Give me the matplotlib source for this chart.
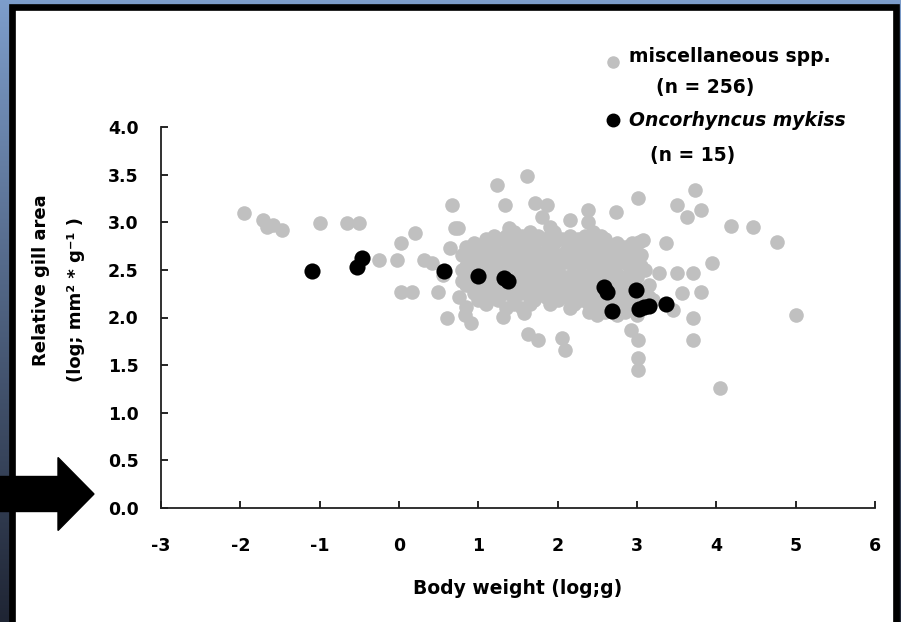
import numpy as np
import matplotlib
matplotlib.use('Agg')
import matplotlib.pyplot as plt
from matplotlib.patches import Rectangle, FancyArrow
from matplotlib.lines import Line2D
from matplotlib.colors import LinearSegmentedColormap

plt.rcParams['font.family'] = 'DejaVu Sans'
plt.rcParams['font.weight'] = 'bold'
plt.rcParams['axes.unicode_minus'] = False

# miscellaneous species (grey) - outliers first, then the dense central cloud
misc_x = [-1.95, -1.72, -1.66, -1.59, -1.48, -1.00, -0.65, -0.50, -0.25, -0.02,
          0.03, 0.20, 0.32, 0.03, 0.16, 0.49, 0.61, 0.67, 0.70, 0.64,
          0.42, 0.55, 0.76, 0.85, 0.83, 0.91, 1.31, 1.58, 1.62, 1.75,
          2.05, 2.09, 1.61, 1.24, 1.33, 1.71, 1.86, 1.80, 2.15, 2.38,
          2.38, 2.74, 3.01, 3.03, 3.73, 3.51, 3.81, 3.63, 4.19, 4.46,
          4.76, 3.37, 2.94, 3.94, 3.28, 3.51, 3.70, 3.57, 3.81, 3.70,
          3.70, 5.01, 4.04, 3.45, 3.01, 3.01, 3.01, 2.93, 0.74, 1.39,
          1.90, 3.07,
          # cloud
          1.45, 1.65, 1.95, 2.45,
          1.10, 1.30, 1.55, 1.80, 2.05, 2.25, 2.60,
          0.85, 1.00, 1.20, 1.45, 1.70, 1.90, 2.15, 2.40, 2.70, 2.85,
          0.80, 1.10, 1.30, 1.55, 1.75, 2.00, 2.25, 2.50, 2.65, 3.05,
          0.90, 1.05, 1.25, 1.45, 1.65, 1.85, 2.10, 2.35, 2.55, 2.80, 2.95,
          0.80, 1.15, 1.35, 1.60, 1.80, 2.00, 2.20, 2.45, 2.70, 3.10,
          0.90, 1.10, 1.50, 1.70, 1.95, 2.10, 2.45, 2.60, 2.85, 3.00,
          0.85, 1.05, 1.25, 1.45, 1.65, 1.85, 2.05, 2.35, 2.50, 2.75, 3.15,
          0.95, 1.15, 1.35, 1.55, 1.75, 1.95, 2.20, 2.40, 2.65, 2.85, 3.05,
          1.00, 1.25, 1.45, 1.70, 2.00, 2.30, 2.55, 2.80, 3.20,
          1.35, 1.55, 2.15, 2.45, 2.60, 2.90,
          2.50, 2.75, 3.00,
          1.20, 1.35, 1.55, 1.75, 1.90, 2.15, 2.35, 2.55,
          0.95, 1.15, 1.40, 1.60, 1.95, 2.20, 2.50, 2.75,
          0.90, 1.05, 1.35, 1.60, 1.85, 2.10, 2.35, 2.60, 2.80, 2.95,
          0.95, 1.20, 1.40, 1.65, 1.90, 2.15, 2.40, 2.75, 2.90,
          0.85, 1.00, 1.25, 1.50, 1.75, 1.95, 2.25, 2.50, 2.65, 2.90, 3.05,
          0.95, 1.25, 1.55, 1.75, 1.90, 2.30, 2.55, 2.75, 2.95,
          0.80, 1.00, 1.20, 1.60, 1.80, 2.00, 2.20, 2.55, 2.70, 2.95,
          0.95, 1.15, 1.35, 1.55, 1.75, 1.95, 2.15, 2.30, 2.45, 2.85, 3.10,
          1.05, 1.25, 1.45, 1.65, 1.85, 2.10, 2.35, 2.50, 2.75, 2.95, 3.15,
          1.10, 1.45, 1.65, 1.90, 2.20, 2.40, 2.70, 3.00,
          2.40, 2.60, 2.85]
misc_y = [3.10, 3.02, 2.95, 2.97, 2.92, 2.99, 2.99, 2.99, 2.60, 2.60,
          2.78, 2.89, 2.60, 2.27, 2.27, 2.27, 1.99, 3.18, 2.94, 2.73,
          2.57, 2.45, 2.21, 2.11, 2.03, 1.94, 2.01, 2.05, 1.83, 1.76,
          1.78, 1.66, 3.49, 3.39, 3.18, 3.20, 3.18, 3.05, 3.02, 3.13,
          3.00, 3.11, 3.25, 2.79, 3.34, 3.18, 3.13, 3.05, 2.96, 2.95,
          2.79, 2.78, 2.78, 2.57, 2.47, 2.47, 2.47, 2.26, 2.27, 1.99,
          1.76, 2.03, 1.26, 2.08, 1.58, 1.45, 1.76, 1.87, 2.94, 2.94,
          2.95, 2.81,
          # cloud
          2.90, 2.90, 2.90, 2.90,
          2.82, 2.82, 2.82, 2.82, 2.82, 2.82, 2.82,
          2.74, 2.74, 2.74, 2.74, 2.74, 2.74, 2.74, 2.74, 2.74, 2.74,
          2.66, 2.66, 2.66, 2.66, 2.66, 2.66, 2.66, 2.66, 2.66, 2.66,
          2.58, 2.58, 2.58, 2.58, 2.58, 2.58, 2.58, 2.58, 2.58, 2.58, 2.58,
          2.50, 2.50, 2.50, 2.50, 2.50, 2.50, 2.50, 2.50, 2.50, 2.50,
          2.42, 2.42, 2.42, 2.42, 2.42, 2.42, 2.42, 2.42, 2.42, 2.42,
          2.34, 2.34, 2.34, 2.34, 2.34, 2.34, 2.34, 2.34, 2.34, 2.34, 2.34,
          2.26, 2.26, 2.26, 2.26, 2.26, 2.26, 2.26, 2.26, 2.26, 2.26, 2.26,
          2.18, 2.18, 2.18, 2.18, 2.18, 2.18, 2.18, 2.18, 2.18,
          2.10, 2.10, 2.10, 2.10, 2.10, 2.10,
          2.03, 2.03, 2.03,
          2.86, 2.86, 2.86, 2.86, 2.86, 2.86, 2.86, 2.86,
          2.78, 2.78, 2.78, 2.78, 2.78, 2.78, 2.78, 2.78,
          2.70, 2.70, 2.70, 2.70, 2.70, 2.70, 2.70, 2.70, 2.70, 2.70,
          2.62, 2.62, 2.62, 2.62, 2.62, 2.62, 2.62, 2.62, 2.62,
          2.54, 2.54, 2.54, 2.54, 2.54, 2.54, 2.54, 2.54, 2.54, 2.54, 2.54,
          2.46, 2.46, 2.46, 2.46, 2.46, 2.46, 2.46, 2.46, 2.46,
          2.38, 2.38, 2.38, 2.38, 2.38, 2.38, 2.38, 2.38, 2.38, 2.38,
          2.30, 2.30, 2.30, 2.30, 2.30, 2.30, 2.30, 2.30, 2.30, 2.30, 2.30,
          2.22, 2.22, 2.22, 2.22, 2.22, 2.22, 2.22, 2.22, 2.22, 2.22, 2.22,
          2.14, 2.14, 2.14, 2.14, 2.14, 2.14, 2.14, 2.14,
          2.06, 2.06, 2.06]

# Oncorhynchus mykiss (black), n = 15
onc_x = [-1.10, -0.53, -0.47, 0.57, 0.99, 1.32, 1.37, 2.58, 2.62, 2.99,
         2.69, 3.03, 3.09, 3.15, 3.37]
onc_y = [2.49, 2.53, 2.62, 2.49, 2.44, 2.41, 2.38, 2.32, 2.27, 2.29,
         2.07, 2.09, 2.11, 2.12, 2.14]

x_ticks = [-3, -2, -1, 0, 1, 2, 3, 4, 5, 6]
y_ticks = [0.0, 0.5, 1.0, 1.5, 2.0, 2.5, 3.0, 3.5, 4.0]

W, H = 901, 622
fig = plt.figure(figsize=(W / 100, H / 100), dpi=100)

# blue gradient backdrop
bg = fig.add_axes([0, 0, 1, 1], zorder=-3)
grad = np.linspace(0, 1, 256).reshape(-1, 1)
cmap = LinearSegmentedColormap.from_list('bg', ['#7d9dcb', '#1f2534'])
bg.imshow(grad, aspect='auto', cmap=cmap, extent=[0, 1, 0, 1], origin='upper')
bg.axis('off')

# white panel with black frame
fig.add_artist(Rectangle((12 / W, -0.05), (896 - 12) / W, 1.05 - 6.5 / H,
                         transform=fig.transFigure, facecolor='white',
                         edgecolor='black', linewidth=4.8, zorder=-2))

ax = fig.add_axes([161 / W, 1 - 508 / H, (875 - 161) / W, (508 - 127) / H])
ax.patch.set_visible(False)

ax.scatter(misc_x, misc_y, s=110, color='#c0c0c0', linewidths=0, zorder=2)
ax.scatter(onc_x, onc_y, s=135, color='black', linewidths=0, zorder=3)

ax.set_xlim(-3, 6)
ax.set_ylim(0, 4)
ax.set_xticks(x_ticks)
ax.set_yticks(y_ticks)
ax.set_yticklabels(['%.1f' % v for v in y_ticks])
ax.spines['top'].set_visible(False)
ax.spines['right'].set_visible(False)
for side in ['left', 'bottom']:
    ax.spines[side].set_linewidth(1.3)
    ax.spines[side].set_color('#202020')
ax.tick_params(direction='in', length=5, width=1.2, labelsize=12.5)
ax.tick_params(axis='y', pad=16)
ax.tick_params(axis='x', pad=21)

# axis titles
fig.text(518 / W, 1 - 588 / H, 'Body weight (log;g)', ha='center', va='center',
         fontsize=13.5)
fig.text(41 / W, 1 - 280 / H, 'Relative gill area', rotation=90,
         ha='center', va='center', fontsize=13)
fig.text(76 / W, 1 - 300 / H, '(log; mm² * g⁻¹ )', rotation=90,
         ha='center', va='center', fontsize=13)

# legend
fig.add_artist(Line2D([613 / W], [1 - 62 / H], marker='o', ms=8,
                      color='#c0c0c0', linestyle='none', transform=fig.transFigure))
fig.add_artist(Line2D([613 / W], [1 - 120 / H], marker='o', ms=9,
                      color='black', linestyle='none', transform=fig.transFigure))
fig.text(629 / W, 1 - 57 / H, 'miscellaneous spp.', va='center', fontsize=13.5)
fig.text(656 / W, 1 - 87 / H, '(n = 256)', va='center', fontsize=13.5)
fig.text(629 / W, 1 - 120 / H, 'Oncorhyncus mykiss', va='center', fontsize=13.5,
         style='italic')
fig.text(650 / W, 1 - 155 / H, '(n = 15)', va='center', fontsize=13.5)

# block arrow pointing at 0.0
fig.add_artist(FancyArrow(0, (H - 494) / 100, 0.94, 0, width=0.35,
                          head_width=0.73, head_length=0.36,
                          length_includes_head=True, color='black',
                          transform=fig.dpi_scale_trans, zorder=5))

fig.savefig('out.png', dpi=100)
